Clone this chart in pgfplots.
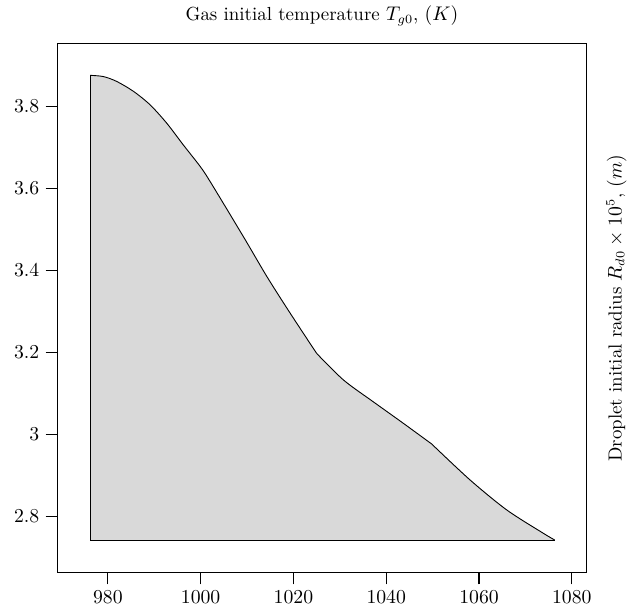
\documentclass[border=0pt]{standalone}
\usepackage{pgfplots}
\pgfplotsset{compat=1.18}
\definecolor{regionfill}{RGB}{217,217,217}
\begin{document}
\begin{tikzpicture}
\begin{axis}[
  scale only axis,
  width=294pt, height=294pt,
  xmin=969.1, xmax=1083.2,
  ymin=2.663, ymax=3.954,
  xtick={980,1000,1020,1040,1060,1080},
  ytick={2.8,3,3.2,3.4,3.6,3.8},
  xtick pos=bottom, ytick pos=left,
  tick align=outside,
  major tick length=6.5pt,
  every tick/.style={black, line width=0.7pt},
  axis line style={line width=0.8pt},
  scaled ticks=false,
  /pgf/number format/1000 sep={},
  font=\fontsize{10.5}{12.6}\selectfont,
  title={Gas initial temperature $T_{g0}$, $(K)$},
  ylabel={Droplet initial radius $R_{d0}\times 10^{5}$, $(m)$},
  every axis y label/.style={at={(axis description cs:1.025,0.5)}, rotate=90, anchor=north},
]
% filled region
\addplot[draw=none, fill=regionfill, forget plot] coordinates {
(976.2,2.742)
(976.2,3.876)
(979.05,3.873)
(981.94,3.861)
(985.52,3.837)
(989.12,3.804)
(992.72,3.759)
(996.29,3.706)
(999.89,3.654)
(1002.05,3.617)
(1009.2,3.483)
(1014.3,3.385)
(1019.3,3.296)
(1025.0,3.198)
(1030.8,3.133)
(1037.2,3.080)
(1043.5,3.029)
(1049.8,2.977)
(1058.1,2.889)
(1066.0,2.816)
(1073.9,2.759)
(1076.3,2.743)
} -- cycle;
% left and bottom edges
\addplot[black, line width=0.5pt, sharp plot] coordinates {
(1076.3,2.742) (976.2,2.742) (976.2,3.876)
};
% upper boundary, piecewise smooth
\addplot[black, line width=0.5pt, smooth, tension=0.5] coordinates {
(976.2,3.876)
(979.05,3.873)
(981.94,3.861)
(985.52,3.837)
(989.12,3.804)
(992.72,3.759)
(996.29,3.706)
(999.89,3.654)
(1002.05,3.617)
(1009.2,3.483)
(1014.3,3.385)
(1019.3,3.296)
(1025.0,3.198)
};
\addplot[black, line width=0.5pt, smooth, tension=0.5] coordinates {
(1025.0,3.198)
(1030.8,3.133)
(1037.2,3.080)
(1043.5,3.029)
(1049.8,2.977)
};
\addplot[black, line width=0.5pt, smooth, tension=0.5] coordinates {
(1049.8,2.977)
(1058.1,2.889)
(1066.0,2.816)
(1073.9,2.759)
(1076.3,2.743)
};
\end{axis}
\path (current axis.south west) +(-31.8pt,-18.7pt) (current axis.north east) +(26.3pt,22.2pt);
\end{tikzpicture}
\end{document}
